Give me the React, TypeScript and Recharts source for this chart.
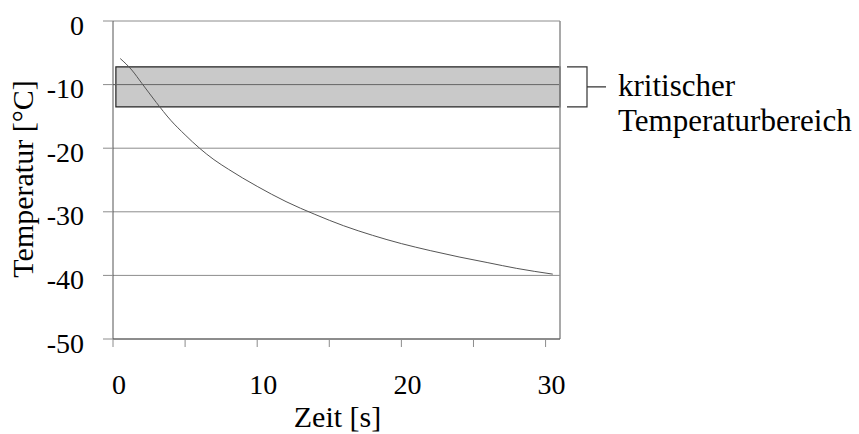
import React from 'react';
import {
  LineChart,
  Line,
  XAxis,
  YAxis,
  CartesianGrid,
  ReferenceArea,
  ReferenceLine,
  Label,
} from 'recharts';

// Zeit in s und gemessene Temperatur in °C
const zeit = [0.5, 1.3, 2, 3, 4, 5, 6, 7, 8, 9, 10, 12, 14, 16, 18, 20, 22, 24, 26, 28, 30.5];
const temperatur = [
  -5.9, -7.7, -9.8, -12.8, -15.6, -17.9, -20.0, -21.8, -23.3, -24.7, -26.0, -28.4, -30.4,
  -32.2, -33.7, -35.0, -36.1, -37.1, -38.0, -38.9, -39.8,
];

const xTicks = [0, 5, 10, 15, 20, 25, 30];
const yTicks = [0, -10, -20, -30, -40, -50];

// kritischer Bereich
const bereichZeit = [0.2, 31];
const bereichTemp = [-13.5, -7.2];

const data = zeit.map((t, i) => ({ t, temp: temperatur[i] }));

const FONT = 'Liberation Serif';
const GRID = '#8c8c8c';

function XTick({ x, y, payload }: any) {
  if (payload.value % 10 !== 0) return null;
  return (
    <text x={x + 6} y={y} textAnchor="middle" style={{ fontFamily: FONT, fontSize: 28, fill: '#000' }}>
      {payload.value}
    </text>
  );
}

function YTick({ x, y, payload }: any) {
  return (
    <text
      x={x}
      y={y + 4}
      textAnchor="end"
      dominantBaseline="central"
      style={{ fontFamily: FONT, fontSize: 28, fill: '#000' }}
    >
      {payload.value}
    </text>
  );
}

function XTitle({ viewBox }: any) {
  return (
    <text
      x={viewBox.x + viewBox.width / 2 + 1}
      y={viewBox.y + 88}
      textAnchor="middle"
      style={{ fontFamily: FONT, fontSize: 30, fill: '#000' }}
    >
      Zeit [s]
    </text>
  );
}

function YTitle({ viewBox }: any) {
  const cx = viewBox.x + 33;
  const cy = viewBox.y + viewBox.height / 2 - 1;
  return (
    <text
      x={cx}
      y={cy}
      transform={`rotate(-90, ${cx}, ${cy})`}
      textAnchor="middle"
      style={{ fontFamily: FONT, fontSize: 30, fill: '#000' }}
    >
      Temperatur [°C]
    </text>
  );
}

function Bracket({ viewBox }: any) {
  const right = viewBox.x + viewBox.width;
  const top = viewBox.y;
  const bottom = viewBox.y + viewBox.height;
  const mid = (top + bottom) / 2;
  const bx = right + 27;
  return (
    <g>
      <path
        d={`M${right + 7},${top} H${bx} V${bottom} H${right + 7} M${bx},${mid} H${bx + 19}`}
        stroke="#333"
        strokeWidth={1.2}
        fill="none"
      />
      <text x={right + 58} y={mid + 9} style={{ fontFamily: FONT, fontSize: 31, fill: '#000' }}>
        kritischer
      </text>
      <text x={right + 58} y={mid + 44} style={{ fontFamily: FONT, fontSize: 31, fill: '#000' }}>
        Temperaturbereich
      </text>
    </g>
  );
}

export default function App() {
  return (
    <div style={{ position: 'absolute', left: 0, top: 0, width: 859, height: 434, background: '#fff' }}>
      <LineChart width={859} height={434} data={data} margin={{ top: 21, right: 299, bottom: 0, left: 0 }}>
        <CartesianGrid vertical={false} stroke={GRID} strokeDasharray="" />
        <XAxis
          dataKey="t"
          type="number"
          domain={[0, 31]}
          ticks={xTicks}
          interval={0}
          height={95}
          tickSize={8}
          tickMargin={0}
          stroke="#555"
          tickLine={{ stroke: GRID }}
          tick={(p: any) => <XTick {...p} y={394} />}
        >
          <Label content={<XTitle />} />
        </XAxis>
        <YAxis
          type="number"
          domain={[-50, 0]}
          ticks={yTicks}
          interval={0}
          width={113}
          tickSize={10}
          tickMargin={19}
          stroke="#555"
          tickLine={{ stroke: GRID }}
          tick={<YTick />}
        >
          <Label content={<YTitle />} />
        </YAxis>
        <ReferenceArea
          x1={bereichZeit[0]}
          x2={bereichZeit[1]}
          y1={bereichTemp[0]}
          y2={bereichTemp[1]}
          fill="#c9c9c9"
          fillOpacity={1}
          stroke="#222"
          strokeWidth={1.2}
          ifOverflow="visible"
          label={<Bracket />}
        />
        <ReferenceLine y={-10} stroke="#666" ifOverflow="visible" />
        <ReferenceLine x={31} stroke={GRID} strokeWidth={1.5} />
        <Line
          dataKey="temp"
          type="monotone"
          stroke="#555"
          strokeWidth={1}
          dot={false}
          isAnimationActive={false}
        />
      </LineChart>
    </div>
  );
}
